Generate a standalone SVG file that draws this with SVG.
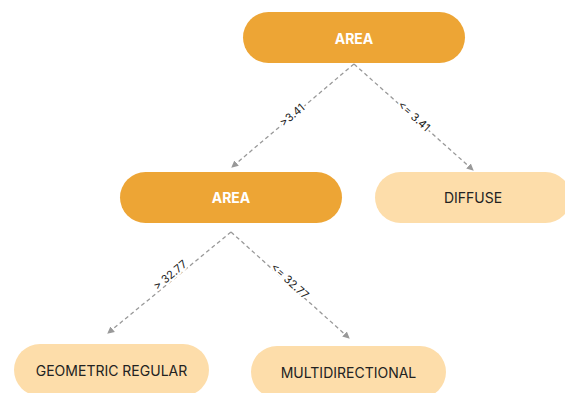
<svg xmlns="http://www.w3.org/2000/svg" width="565" height="393" viewBox="0 0 565 393">
<style>
.dark{fill:#EDA535;}
.light{fill:#FDDDAA;}
.t{font-family:Inter,"Liberation Sans",sans-serif;font-size:14px;text-anchor:middle;dominant-baseline:central;}
.tw{fill:#ffffff;font-weight:bold;}
.td{fill:#222222;}
.e{stroke:#999999;stroke-width:1.3;stroke-dasharray:4 3;fill:none;}
.lbl{font-family:Inter,"Liberation Sans",sans-serif;font-size:11px;fill:#222222;text-anchor:middle;dominant-baseline:central;stroke:#ffffff;stroke-width:4px;paint-order:stroke;stroke-linejoin:round;}
</style>
<defs>
<marker id="arr" markerWidth="8" markerHeight="8" refX="6" refY="4" orient="auto" markerUnits="userSpaceOnUse">
<path d="M0,0.5 L7,4 L0,7.5 Z" fill="#999999"/>
</marker>
</defs>
<g id="edges">
<line class="e" x1="354" y1="64" x2="232" y2="167" marker-end="url(#arr)"/>
<line class="e" x1="354" y1="64" x2="473" y2="170" marker-end="url(#arr)"/>
<line class="e" x1="231" y1="232" x2="108" y2="333" marker-end="url(#arr)"/>
<line class="e" x1="231" y1="232" x2="349" y2="338" marker-end="url(#arr)"/>
<text class="lbl" transform="translate(292,115) rotate(-40)">&gt;3.41</text>
<text class="lbl" transform="translate(414,116) rotate(42)">&lt;= 3.41</text>
<text class="lbl" transform="translate(170,275) rotate(-40)">&gt; 32.77</text>
<text class="lbl" transform="translate(290,281) rotate(42)">&lt;= 32.77</text>
</g>
<g id="n1">
<rect class="dark" x="243" y="12" width="222" height="51" rx="25.5"/>
<text class="t tw" x="354" y="38">AREA</text>
</g>
<g id="n2">
<rect class="dark" x="120" y="172" width="222" height="51" rx="25.5"/>
<text class="t tw" x="231" y="197.5">AREA</text>
</g>
<g id="n3">
<rect class="light" x="375" y="172" width="196" height="51" rx="25.5"/>
<text class="t td" x="473" y="197.5">DIFFUSE</text>
</g>
<g id="n4">
<rect class="light" x="14" y="344" width="195" height="52" rx="26"/>
<text class="t td" x="111.5" y="370">GEOMETRIC REGULAR</text>
</g>
<g id="n5">
<rect class="light" x="251" y="346" width="195" height="52" rx="26"/>
<text class="t td" x="348.5" y="372">MULTIDIRECTIONAL</text>
</g>
</svg>
